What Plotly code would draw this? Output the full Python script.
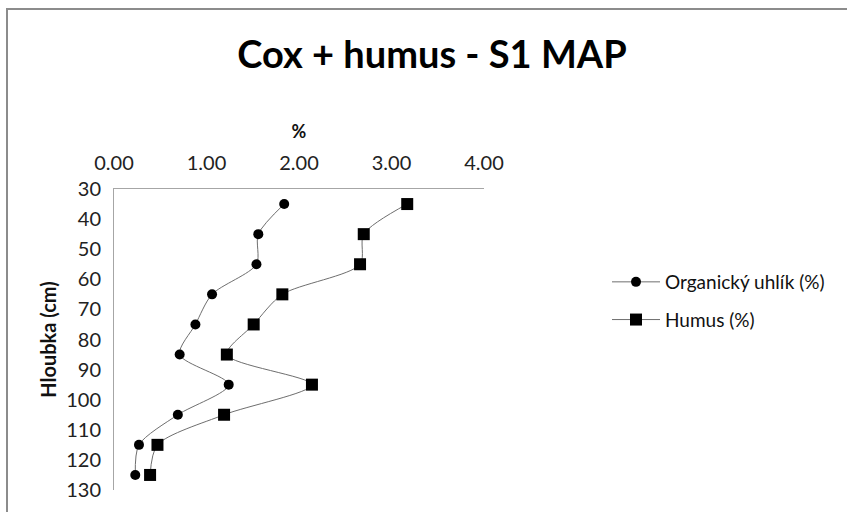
import plotly.graph_objects as go

depth_cm = [35, 45, 55, 65, 75, 85, 95, 105, 115, 125]
organic_carbon = [1.84, 1.56, 1.54, 1.06, 0.88, 0.71, 1.24, 0.69, 0.27, 0.23]
humus = [3.17, 2.70, 2.66, 1.82, 1.51, 1.22, 2.14, 1.19, 0.47, 0.39]
series_names = ["Organický uhlík (%)", "Humus (%)"]
x_ticks = [0, 1, 2, 3, 4]
y_ticks = [30, 40, 50, 60, 70, 80, 90, 100, 110, 120, 130]

FONT = "Lato"
W, H = 847, 512
L, R, T, B = 114, 363, 189, 22
pw, ph = W - L - R, H - T - B


def px2x(px):
    return (px - L) / pw


def py2y(py):
    return (H - B - py) / ph


fig = go.Figure()
fig.add_trace(go.Scatter(
    x=organic_carbon, y=depth_cm, name=series_names[0], mode="lines+markers",
    line=dict(color="#6e6e6e", width=1, shape="spline", smoothing=0.8),
    marker=dict(symbol="circle", size=10, color="black"),
    legendgroup="a",
))
fig.add_trace(go.Scatter(
    x=humus, y=depth_cm, name=series_names[1], mode="lines+markers",
    line=dict(color="#6e6e6e", width=1, shape="spline", smoothing=0.8),
    marker=dict(symbol="square", size=12, color="black"),
    legendgroup="b",
))

fig.update_layout(
    width=W, height=H,
    margin=dict(l=L, r=R, t=T, b=B),
    paper_bgcolor="white", plot_bgcolor="white",
    font=dict(family=FONT, color="#222"),
    title=dict(text="<b>Cox + humus - S1 MAP</b>", x=px2x(432), xref="paper",
               xanchor="center", y=1 - 55 / H, yanchor="middle",
               font=dict(size=38, color="black", family=FONT)),
    showlegend=True,
    legend=dict(x=px2x(607), y=py2y(263), xanchor="left", yanchor="top",
                font=dict(size=19, color="#111", family=FONT),
                itemwidth=48, tracegroupgap=10, bgcolor="rgba(0,0,0,0)"),
    xaxis=dict(side="top", range=[0, 4], tickvals=x_ticks, tickformat=".2f",
               showgrid=False, zeroline=False, showline=True, linecolor="#a6a6a6",
               linewidth=1, ticks="", tickfont=dict(size=20, color="#222"),
               ticklabelstandoff=10,
               title=dict(text="<b>%</b>", font=dict(size=18, color="#111"), standoff=6)),
    yaxis=dict(range=[130, 30], tickvals=y_ticks, showgrid=False, zeroline=False,
               showline=True, linecolor="#a6a6a6", linewidth=1, ticks="",
               tickfont=dict(size=20, color="#222"), ticklabelstandoff=8,
               title=dict(text="<b>Hloubka (cm)</b>", font=dict(size=20, color="#111"),
                          standoff=4)),
)

fig.add_shape(type="rect", xref="paper", yref="paper",
              x0=px2x(7), x1=px2x(W + 5), y0=py2y(H + 5), y1=py2y(9),
              line=dict(color="#8c8c8c", width=2), fillcolor="rgba(0,0,0,0)",
              layer="below")

fig.write_html("out.html")
